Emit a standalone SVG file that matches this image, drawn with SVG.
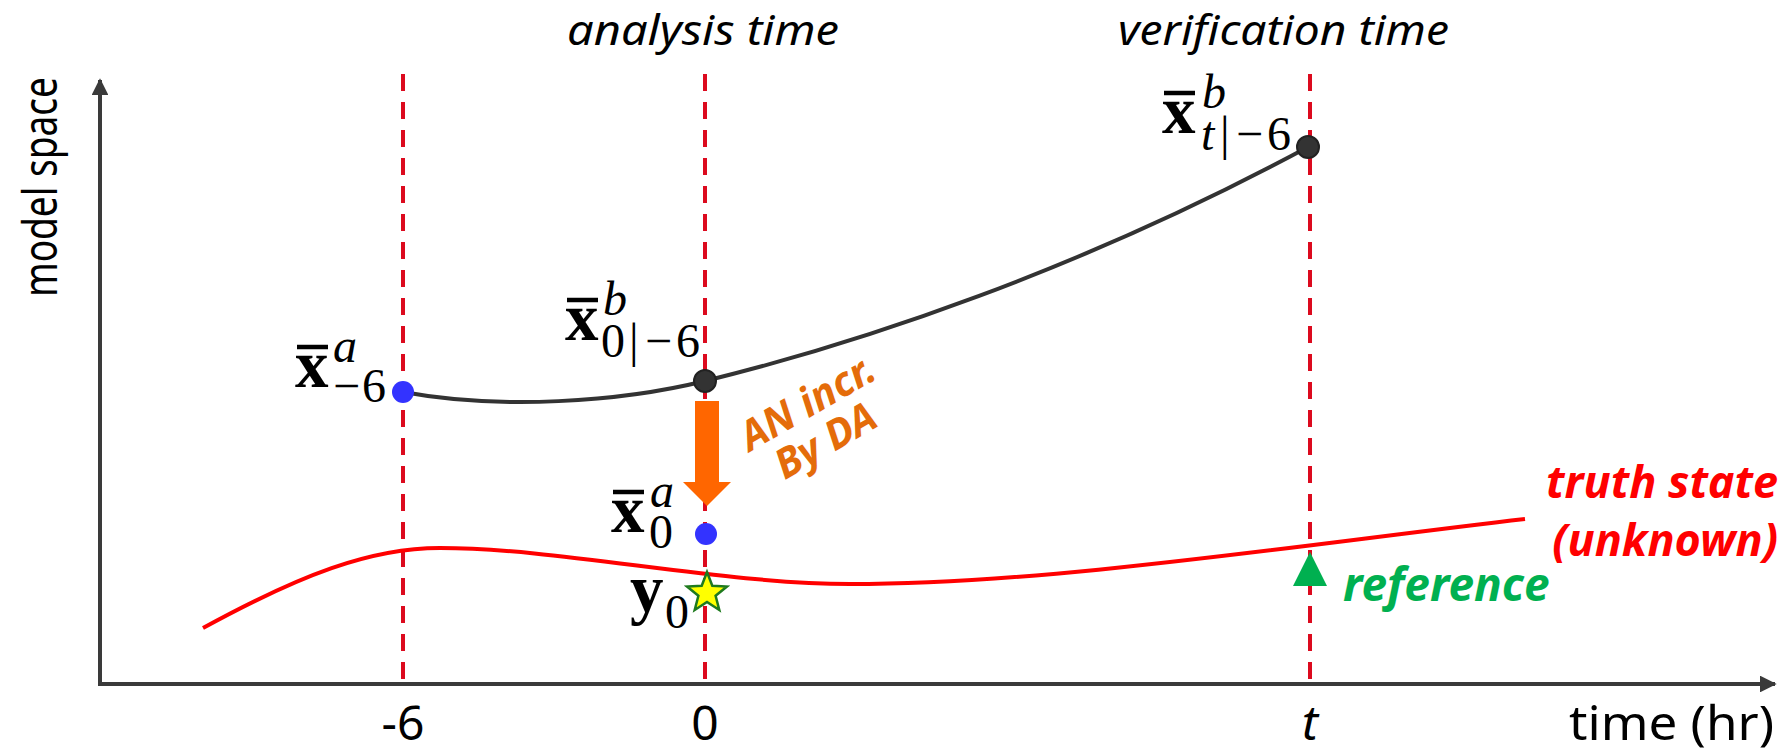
<svg xmlns="http://www.w3.org/2000/svg" width="1789" height="754" viewBox="0 0 1789 754">
<defs>
<style>
.axis{stroke:#3a3a3a;stroke-width:4;fill:none}
.vline{stroke:#dc0a1e;stroke-width:4;stroke-dasharray:17,11;fill:none}
.lbl{font-family:"Noto Sans","Open Sans",sans-serif;fill:#000}
.m{font-family:"Liberation Serif","Times New Roman",serif;fill:#000}
.mb{font-weight:bold;font-size:67px}
.mi{font-style:italic;font-size:48px}
.mr{font-size:48px}
.bar{stroke:#000;stroke-width:4.5}
.bdot{fill:#3333ff}
.kdot{fill:#333;stroke:#222;stroke-width:2}
.orange{font-family:"Noto Sans","Open Sans",sans-serif;font-size:41px;font-weight:bold;font-style:italic;fill:#e46c0a}
</style>
<marker id="ah" viewBox="0 0 10 10" refX="9" refY="5" markerWidth="4.2" markerHeight="4.2" orient="auto" markerUnits="strokeWidth">
<path d="M0,0 L10,5 L0,10 z" fill="#3a3a3a"/>
</marker>
</defs>
<rect width="1789" height="754" fill="#fff"/>

<g id="axes">
<line class="axis" x1="100" y1="684" x2="100" y2="80" marker-end="url(#ah)"/>
<line class="axis" x1="98" y1="684" x2="1775" y2="684" marker-end="url(#ah)"/>
<text class="lbl" font-size="48" transform="translate(57,187) rotate(-90)" text-anchor="middle" textLength="220" lengthAdjust="spacingAndGlyphs">model space</text>
<text class="lbl" font-size="48" x="403" y="740" text-anchor="middle">-6</text>
<text class="lbl" font-size="48" x="705" y="740" text-anchor="middle">0</text>
<text class="lbl" font-size="48" font-style="italic" x="1310" y="740" text-anchor="middle">t</text>
<text class="lbl" font-size="48" x="1569" y="740" textLength="205" lengthAdjust="spacingAndGlyphs">time (hr)</text>
</g>

<g id="time-lines">
<line class="vline" x1="403" y1="74" x2="403" y2="682"/>
<line class="vline" x1="705" y1="74" x2="705" y2="682"/>
<line class="vline" x1="1310" y1="74" x2="1310" y2="682"/>
<text class="lbl" font-size="42" font-style="italic" x="567" y="45" textLength="272" lengthAdjust="spacingAndGlyphs">analysis time</text>
<text class="lbl" font-size="42" font-style="italic" x="1118" y="45" textLength="331" lengthAdjust="spacingAndGlyphs">verification time</text>
</g>

<g id="connectors">
<path d="M403,392 C500,410 620,402 705,381 C860,343 1080,270 1308,147" stroke="#333" stroke-width="4" fill="none"/>
<path d="M203,628 C300,575 370,548 440,548 C560,548 720,584 850,584 C1050,584 1300,545 1525,519" stroke="#ff0000" stroke-width="4" fill="none"/>
</g>

<g id="truth-label">
<text class="lbl" font-size="45" font-weight="bold" font-style="italic" x="1778" y="498" text-anchor="end" style="fill:#ff0000">truth state</text>
<text class="lbl" font-size="45" font-weight="bold" font-style="italic" x="1778" y="556" text-anchor="end" style="fill:#ff0000">(unknown)</text>
</g>

<g id="reference">
<polygon points="1310,552 1293,586 1327,586" fill="#00b050"/>
<text class="lbl" font-size="46" font-weight="bold" font-style="italic" x="1343" y="601" style="fill:#00b050">reference</text>
</g>

<g id="node-xa-6">
<circle class="bdot" cx="403" cy="392" r="11"/>
<line class="bar" x1="297" y1="347" x2="328" y2="347"/>
<text class="m"><tspan class="mb" x="295" y="387">x</tspan><tspan class="mi" x="333" y="362">a</tspan><tspan class="mr" x="333" y="402">−</tspan><tspan class="mr" x="362" y="402">6</tspan></text>
</g>

<g id="node-xb0">
<circle class="kdot" cx="705" cy="381" r="11"/>
<line class="bar" x1="567" y1="300" x2="598" y2="300"/>
<text class="m"><tspan class="mb" x="565" y="340">x</tspan><tspan class="mi" x="603" y="315">b</tspan><tspan class="mr" x="601" y="357">0</tspan><tspan class="mr" x="629" y="357">|</tspan><tspan class="mr" x="645" y="357">−</tspan><tspan class="mr" x="676" y="357">6</tspan></text>
</g>

<g id="node-xbt">
<circle class="kdot" cx="1308" cy="147" r="11"/>
<line class="bar" x1="1164" y1="93" x2="1195" y2="93"/>
<text class="m"><tspan class="mb" x="1162" y="133">x</tspan><tspan class="mi" x="1202" y="108">b</tspan><tspan class="mi" x="1201" y="150">t</tspan><tspan class="mr" x="1220" y="150">|</tspan><tspan class="mr" x="1236" y="150">−</tspan><tspan class="mr" x="1267" y="150">6</tspan></text>
</g>

<g id="increment">
<path d="M695,401 H719 V482 H731 L707,506 L683,482 H695 Z" fill="#ff6600"/>
<g transform="translate(750,452) rotate(-30)">
<text class="orange" x="0" y="0">AN incr.</text>
<text class="orange" x="16" y="42">By DA</text>
</g>
</g>

<g id="node-xa0">
<circle class="bdot" cx="706" cy="534" r="11"/>
<line class="bar" x1="613" y1="492" x2="644" y2="492"/>
<text class="m"><tspan class="mb" x="611" y="532">x</tspan><tspan class="mi" x="650" y="507">a</tspan><tspan class="mr" x="649" y="548">0</tspan></text>
</g>

<g id="node-y0">
<polygon points="707,572 712.3,585.7 727,586.5 715.6,595.8 719.3,610 707,602 694.7,610 698.4,595.8 687,586.5 701.7,585.7" fill="#ffff00" stroke="#1e7a1e" stroke-width="2.5"/>
<text class="m"><tspan class="mb" x="630" y="612">y</tspan><tspan class="mr" x="665" y="628">0</tspan></text>
</g>
</svg>
